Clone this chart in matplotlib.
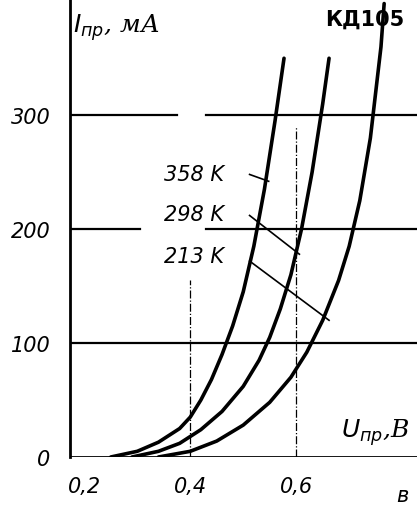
import numpy as np
import matplotlib.pyplot as plt

# forward voltage (V) vs forward current (mA)
u_358 = [0.25, 0.30, 0.34, 0.38, 0.40, 0.42, 0.44, 0.46, 0.48, 0.50, 0.52, 0.54, 0.56, 0.577]
i_358 = [0, 5, 13, 25, 35, 50, 68, 90, 115, 145, 185, 235, 295, 350]
u_298 = [0.29, 0.34, 0.38, 0.42, 0.46, 0.50, 0.53, 0.55, 0.57, 0.59, 0.61, 0.63, 0.65, 0.662]
i_298 = [0, 5, 12, 24, 40, 62, 85, 105, 130, 160, 200, 250, 310, 350]
u_213 = [0.34, 0.40, 0.45, 0.50, 0.55, 0.59, 0.62, 0.65, 0.68, 0.70, 0.72, 0.74, 0.76, 0.766]
i_213 = [0, 5, 14, 28, 48, 70, 92, 120, 155, 185, 225, 280, 360, 398]
x_ticks = [0.2, 0.4, 0.6]
x_labels = ["0,2", "0,4", "0,6"]
y_ticks = [0, 100, 200, 300]
y_labels = ["0", "100", "200", "300"]

fig = plt.figure(figsize=(4.17, 5.10), dpi=100)
ax = fig.add_axes([70/417, 52/510, 347/417, 458/510])
ax.set_xlim(0.173, 0.828)
ax.set_ylim(0, 402)
for s in ["top", "right", "bottom"]:
    ax.spines[s].set_visible(False)
ax.spines["left"].set_linewidth(2)
ax.axhline(0, color="black", lw=2)

# horizontal grid with gaps
lw = 1.6
ax.plot([0.173, 0.375], [300, 300], color="black", lw=lw)
ax.plot([0.43, 0.828], [300, 300], color="black", lw=lw)
ax.plot([0.173, 0.305], [200, 200], color="black", lw=lw)
ax.plot([0.43, 0.828], [200, 200], color="black", lw=lw)
ax.plot([0.173, 0.828], [100, 100], color="black", lw=lw)
ax.plot([0.4, 0.4], [0, 155], color="black", lw=0.9, ls="-.")
ax.plot([0.6, 0.6], [0, 290], color="black", lw=0.9, ls="-.")

for u, i in [(u_358, i_358), (u_298, i_298), (u_213, i_213)]:
    ax.plot(u, i, color="black", lw=2.6, solid_capstyle="round", solid_joinstyle="round")

tf = dict(fontsize=15, style="italic", family="DejaVu Sans")
ax.text(0.35, 248, "358 K", **tf, va="center")
ax.plot([0.512, 0.548], [248, 242], color="black", lw=1.2)
ax.text(0.35, 213, "298 K", **tf, va="center")
ax.plot([0.512, 0.606], [212, 178], color="black", lw=1.2)
ax.text(0.35, 176, "213 K", **tf, va="center")
ax.plot([0.512, 0.662], [172, 120], color="black", lw=1.2)
ax.text(0.73, 385, "КД105", fontsize=15, fontweight="bold", ha="center", va="center")

ax.text(0.178, 378, r"$I_{пр}$, мА", fontsize=18, family="DejaVu Serif", style="italic", ha="left", va="center")
ax.text(0.815, 18, r"$U_{пр}$,B", fontsize=18, family="DejaVu Serif", style="italic", ha="right")

ax.set_xticks(x_ticks, x_labels)
ax.set_yticks(y_ticks, y_labels)
ax.tick_params(length=0, labelsize=15, pad=14)
for t in ax.get_xticklabels() + ax.get_yticklabels():
    t.set_style("italic")
ax.text(0.8, -25, "в", fontsize=15, style="italic", ha="center", va="top")

fig.savefig("out.png", dpi=100)
